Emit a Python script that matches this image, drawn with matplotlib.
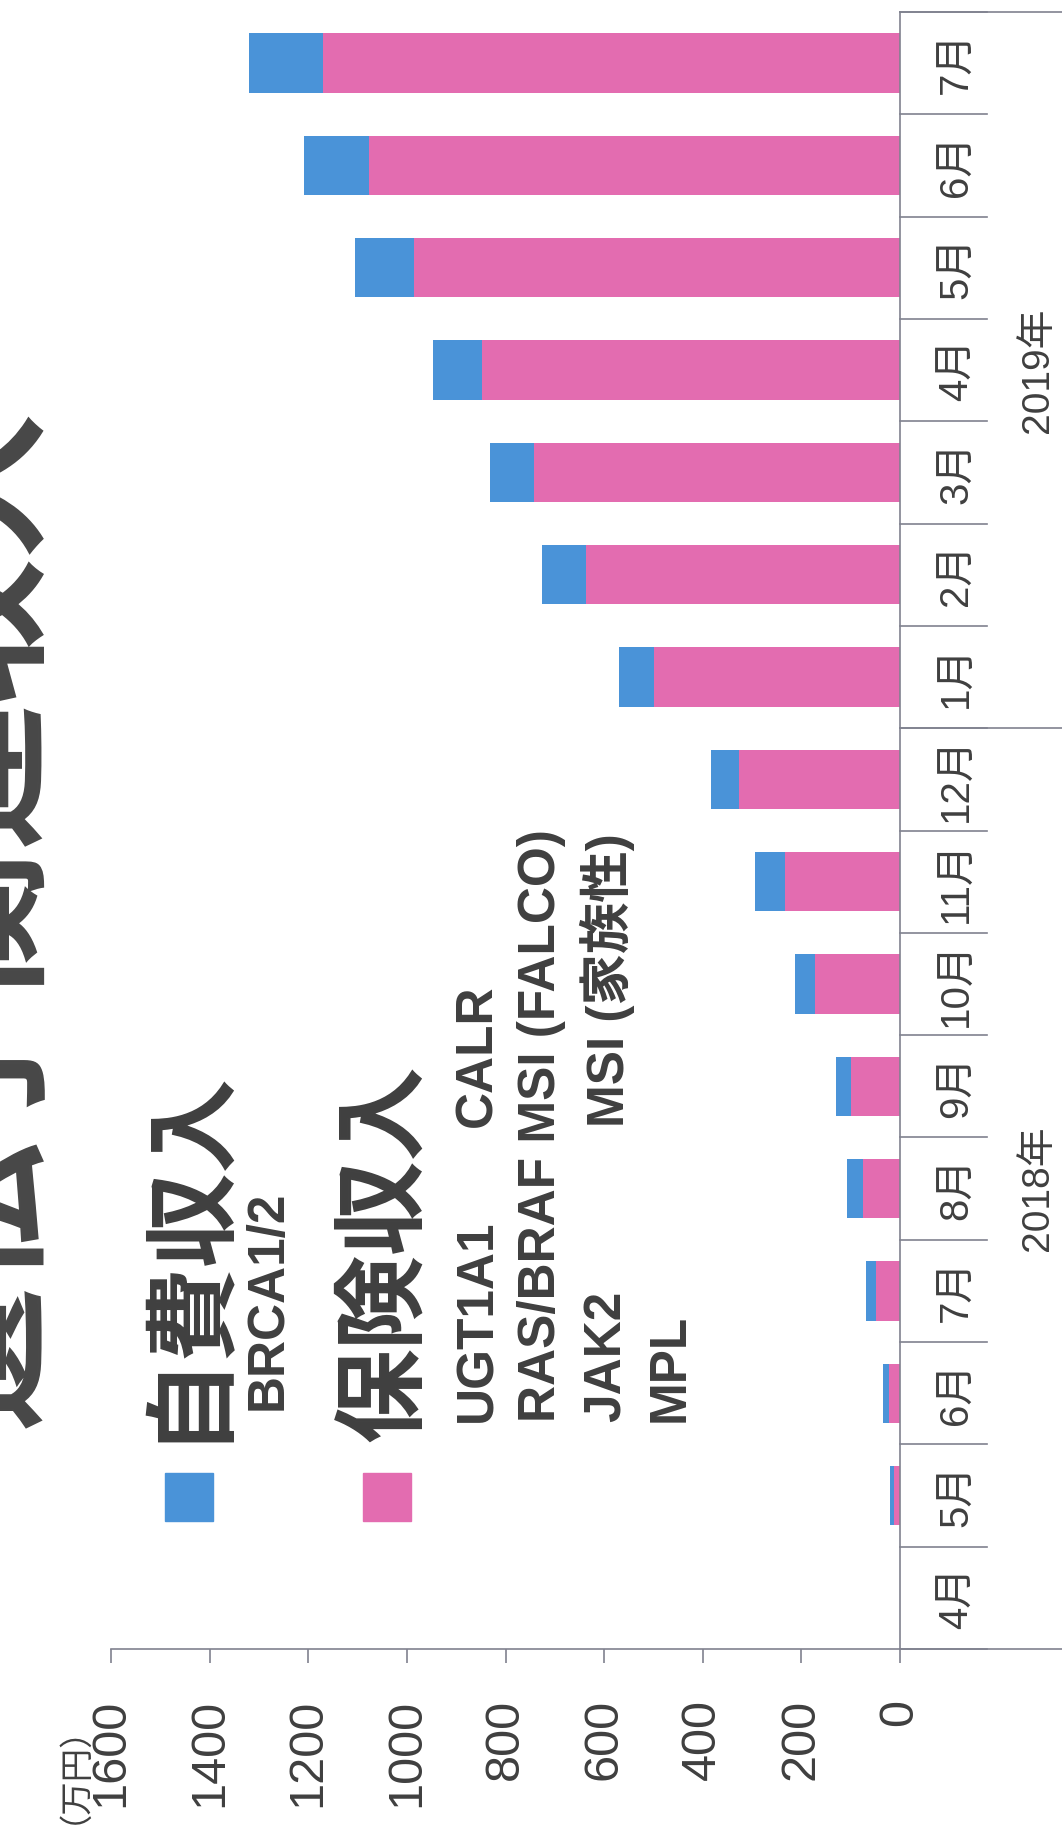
import matplotlib
matplotlib.use("Agg")
import matplotlib.pyplot as plt
from matplotlib.patches import Rectangle

# data (万円), 2018年4月 -> 2019年7月
months = ['4月', '5月', '6月', '7月', '8月', '9月', '10月', '11月', '12月',
          '1月', '2月', '3月', '4月', '5月', '6月', '7月']
year_labels = ['2018年', '2019年']
year_counts = [9, 7]
insurance = [0, 12, 22, 48, 75, 100, 173, 234, 326, 498, 636, 742, 848, 985, 1077, 1170]
self_pay = [0, 9, 12, 20, 32, 30, 40, 61, 57, 71, 90, 89, 100, 121, 132, 150]
value_ticks = [0, 200, 400, 600, 800, 1000, 1200, 1400, 1600]

W, H = 1062, 1841
BLUE = '#4a93d8'
PINK = '#e36cb0'
TXT = '#3f3f3f'
LINE = '#80828f'
LAT = ['Liberation Sans', 'Noto Sans CJK JP']
CJK = ['Noto Sans CJK JP', 'DejaVu Sans']

fig = plt.figure(figsize=(W / 100, H / 100), dpi=100)


def ftext(x, y, s, **kw):
    # place text in figure pixel coordinates (top-left origin)
    fig.text(x / W, 1 - y / H, s, **kw)


ax_l, ax_r, ax_t, ax_b = 111, 900, 12, 1649
ax = fig.add_axes([ax_l / W, 1 - ax_b / H, (ax_r - ax_l) / W, (ax_b - ax_t) / H])

idx = list(range(len(months)))
ax.barh(idx, insurance, height=0.58, color=PINK, linewidth=0)
ax.barh(idx, self_pay, left=insurance, height=0.58, color=BLUE, linewidth=0)

ax.set_xlim(1600, 0)
ax.set_ylim(-0.5, len(months) - 0.5)
ax.set_xticks(value_ticks)
ax.set_xticklabels([str(v) for v in value_ticks], rotation=90, fontsize=35,
                   color=TXT, family=LAT)
ax.tick_params(axis='x', direction='out', length=10, width=1.2, color=LINE, pad=26)
ax.set_yticks([])
for s in ['left', 'top']:
    ax.spines[s].set_visible(False)
for s in ['bottom', 'right']:
    ax.spines[s].set_color(LINE)
    ax.spines[s].set_linewidth(1.2)

# multi-level category axis on the right
tr = ax.get_yaxis_transform()  # x: axes fraction, y: data
x_month_end = (987 - ax_l) / (ax_r - ax_l)
x_edge = (W - ax_l) / (ax_r - ax_l)
x_month_lab = (957 - ax_l) / (ax_r - ax_l)
x_year_lab = (1038 - ax_l) / (ax_r - ax_l)

for i, m in enumerate(months):
    ax.text(x_month_lab, i, m, transform=tr, rotation=90, ha='center', va='center',
            fontsize=29, color=TXT, family=LAT)
for b in range(len(months) + 1):
    ax.plot([1, x_month_end], [b - 0.5, b - 0.5], transform=tr, color=LINE,
            lw=1.2, clip_on=False)

start = 0
for lab, n in zip(year_labels, year_counts):
    ax.plot([1, x_edge], [start - 0.5, start - 0.5], transform=tr, color=LINE,
            lw=1.2, clip_on=False)
    ax.text(x_year_lab, start + (n - 1) / 2, lab, transform=tr, rotation=90,
            ha='center', va='center', fontsize=28, color=TXT, family=LAT)
    start += n
ax.plot([1, x_edge], [start - 0.5, start - 0.5], transform=tr, color=LINE,
        lw=1.2, clip_on=False)

# unit label
ftext(56, 1690, '（万円）', rotation=90, ha='center', va='top', fontsize=24,
      color=TXT, family=CJK)

# title (cut by the left edge, as in the source)
ftext(-16, 917, '遺伝子関連収入', rotation=90, ha='center', va='center',
      fontsize=105, color='#474747', family=CJK, fontweight='bold')

# legend
fig.patches.append(Rectangle((165 / W, 1 - 1521 / H), 48 / W, 48 / H,
                             transform=fig.transFigure, color=BLUE))
fig.patches.append(Rectangle((363 / W, 1 - 1521 / H), 48 / W, 48 / H,
                             transform=fig.transFigure, color=PINK))
ftext(186, 1442, '自費収入', rotation=90, ha='center', va='bottom', fontsize=68,
      color=TXT, family=CJK, fontweight='bold')
ftext(385, 1442, '保険収入', rotation=90, ha='center', va='bottom', fontsize=68,
      color=TXT, family=CJK, fontweight='bold')

genes = dict(rotation=90, ha='center', va='bottom', fontsize=37, color=TXT,
             family=LAT, fontweight='bold')
ftext(268, 1410, 'BRCA1/2', **genes)
ftext(478, 1422, 'UGT1A1', **genes)
ftext(478, 1127, 'CALR', **genes)
ftext(541, 1422, 'RAS/BRAF MSI (FALCO)', **genes)
ftext(607, 1422, 'JAK2', **genes)
ftext(607, 1127, 'MSI (家族性)', **genes)
ftext(670, 1422, 'MPL', **genes)

fig.savefig('out.png', dpi=100, facecolor='white')
